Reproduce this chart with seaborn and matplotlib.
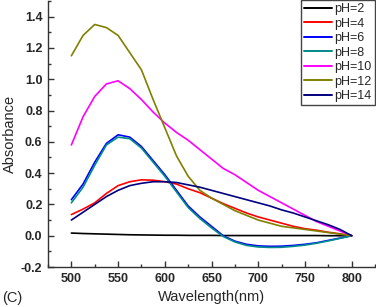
import numpy as np
import pandas as pd
import matplotlib
matplotlib.use("Agg")
import matplotlib.pyplot as plt
import seaborn as sns
from matplotlib.ticker import MultipleLocator

wavelength = [500, 512.5, 525, 537.5, 550, 562.5, 575, 587.5, 600, 612.5, 625, 637.5,
              650, 662.5, 675, 687.5, 700, 712.5, 725, 737.5, 750, 762.5, 775, 787.5, 800]

ph2 = [0.017, 0.014, 0.012, 0.010, 0.008, 0.006, 0.005, 0.004, 0.003, 0.003, 0.002, 0.002,
       0.002, 0.001, 0.001, 0.001, 0.001, 0.001, 0.001, 0.001, 0.001, 0.001, 0.0, 0.0, 0.0]
ph4 = [0.135, 0.17, 0.21, 0.27, 0.32, 0.345, 0.357, 0.355, 0.345, 0.33, 0.30, 0.275,
       0.24, 0.205, 0.175, 0.145, 0.12, 0.10, 0.08, 0.06, 0.045, 0.035, 0.022, 0.012, 0.0]
ph6 = [0.23, 0.33, 0.47, 0.59, 0.645, 0.63, 0.57, 0.48, 0.39, 0.29, 0.19, 0.12,
       0.06, 0.0, -0.035, -0.055, -0.065, -0.068, -0.067, -0.062, -0.055, -0.045, -0.03, -0.015, 0.0]
ph8 = [0.21, 0.31, 0.45, 0.58, 0.63, 0.62, 0.56, 0.47, 0.38, 0.28, 0.18, 0.11,
       0.05, -0.005, -0.04, -0.062, -0.072, -0.075, -0.074, -0.068, -0.06, -0.048, -0.033, -0.017, 0.0]
ph10 = [0.58, 0.76, 0.89, 0.97, 0.99, 0.94, 0.87, 0.79, 0.72, 0.66, 0.61, 0.55,
        0.49, 0.43, 0.39, 0.34, 0.29, 0.25, 0.21, 0.17, 0.13, 0.09, 0.06, 0.03, 0.0]
ph12 = [1.15, 1.28, 1.35, 1.33, 1.28, 1.17, 1.06, 0.87, 0.69, 0.51, 0.38, 0.29,
        0.24, 0.20, 0.16, 0.13, 0.10, 0.08, 0.06, 0.05, 0.04, 0.03, 0.02, 0.01, 0.0]
ph14 = [0.10, 0.15, 0.20, 0.25, 0.29, 0.32, 0.335, 0.345, 0.345, 0.34, 0.325, 0.31,
        0.29, 0.27, 0.25, 0.23, 0.21, 0.19, 0.165, 0.145, 0.12, 0.095, 0.07, 0.04, 0.0]

labels = ["pH=2", "pH=4", "pH=6", "pH=8", "pH=10", "pH=12", "pH=14"]
colors = ["#000000", "#ff0000", "#0000ff", "#008b8b", "#ff00ff", "#808000", "#000080"]
series = [ph2, ph4, ph6, ph8, ph10, ph12, ph14]

rows = []
for lab, vals in zip(labels, series):
    for w, v in zip(wavelength, vals):
        rows.append({"Wavelength": w, "Absorbance": v, "pH": lab})
df = pd.DataFrame(rows)

sns.set_theme(style="white")
plt.rcParams["font.family"] = ["Liberation Sans", "DejaVu Sans"]

fig = plt.figure(figsize=(3.76, 3.07), dpi=100)
ax = fig.add_axes([48 / 376, 40 / 307, 328 / 376, 266 / 307])

sns.lineplot(data=df, x="Wavelength", y="Absorbance", hue="pH", hue_order=labels,
             palette=dict(zip(labels, colors)), linewidth=1.2, ax=ax, legend=False)

ax.set_xlim(475, 826)
ax.set_ylim(-0.2, 1.5)
ax.set_xticks([500, 550, 600, 650, 700, 750, 800])
ax.set_yticks([-0.2, 0.0, 0.2, 0.4, 0.6, 0.8, 1.0, 1.2, 1.4])
ax.xaxis.set_minor_locator(MultipleLocator(25))
ax.yaxis.set_minor_locator(MultipleLocator(0.1))
ax.tick_params(axis="both", which="major", direction="in", length=4, width=1,
               color="#333333", labelsize=9, bottom=True, left=True, pad=4)
ax.tick_params(axis="both", which="minor", direction="in", length=2.5, width=1,
               color="#333333", bottom=True, left=True)
for t in ax.get_xticklabels() + ax.get_yticklabels():
    t.set_fontweight("bold")
ax.yaxis.set_major_formatter(matplotlib.ticker.FuncFormatter(
    lambda v, p: ("-" if v < -1e-9 else "") + f"{abs(v):.1f}"))

for s in ["top", "right"]:
    ax.spines[s].set_visible(False)
for s in ["left", "bottom"]:
    ax.spines[s].set_color("#333333")
    ax.spines[s].set_linewidth(1.0)

ax.set_xlabel("Wavelength(nm)", fontsize=10.5, labelpad=4)
ax.set_ylabel("Absorbance", fontsize=10.5, labelpad=3)

handles = [plt.Line2D([], [], color=c, linewidth=1.4) for c in colors]
leg = fig.legend(handles, labels, loc="upper right", bbox_to_anchor=(375 / 376, 1.0),
                 fontsize=9, frameon=True, fancybox=False, framealpha=1,
                 edgecolor="#444444", handlelength=2.2, handletextpad=0.25,
                 labelspacing=0.2, borderpad=0.25, borderaxespad=0)
leg.get_frame().set_linewidth(1.0)

fig.text(2 / 376, 1 - 298 / 307, "(C)", fontsize=10.5, va="center", ha="left")

fig.savefig("out.png", dpi=100)
